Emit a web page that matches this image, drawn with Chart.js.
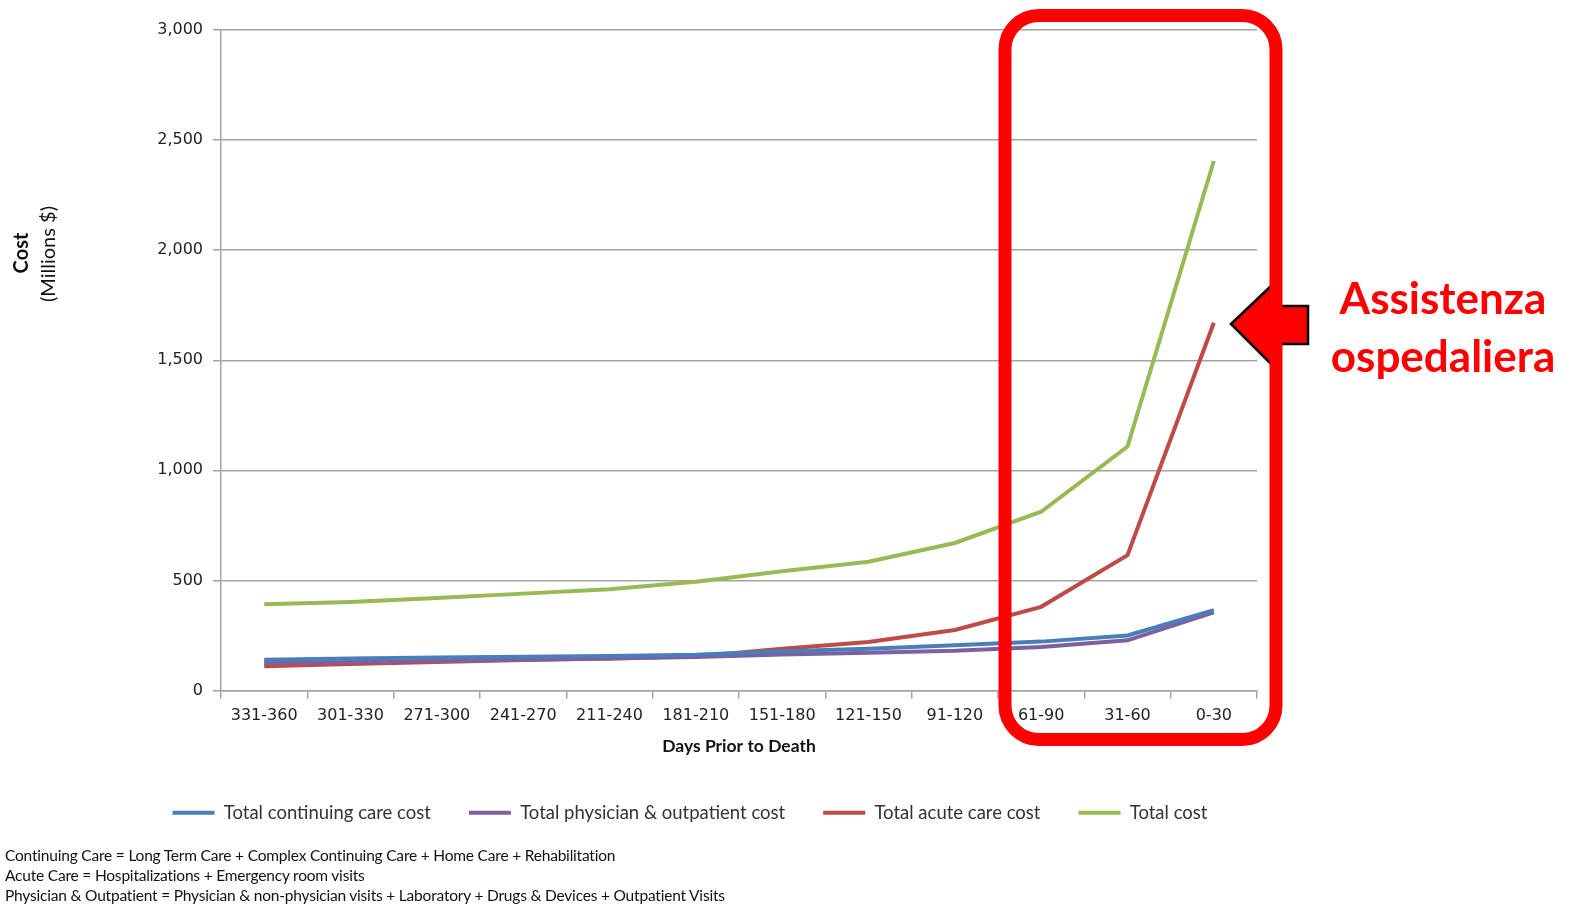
<!DOCTYPE html>
<html lang="en">
<head>
<meta charset="UTF-8">
<title>Cost prior to death</title>
<script src="https://cdn.jsdelivr.net/npm/chart.js"></script>
<style>
    html, body { margin: 0; padding: 0; background: #fff; }
    #wrap { position: relative; width: 1573px; height: 904px; overflow: hidden; }
    .ytitle { position: absolute; font-family: Lato, sans-serif; font-size: 20px; color: #111;
              transform: translate(-50%, -50%) rotate(-90deg); white-space: nowrap; }
    #note { position: absolute; left: 5px; top: 845px; font-family: Lato, sans-serif; font-size: 15.5px;
            line-height: 20px; color: #111; letter-spacing: -0.2px; }
    #callout { position: absolute; left: 1443px; top: 268px; transform: translateX(-50%); text-align: center;
               font-family: Lato, sans-serif; font-weight: bold; font-size: 44px; line-height: 58px; color: #ff0000; }
</style>
</head>
<body>
<div id="wrap">
    <canvas id="myChart" width="1573" height="904"></canvas>
    <div class="ytitle" style="left:20px; top:253px; font-weight:bold;">Cost</div>
    <div class="ytitle" style="left:47px; top:254px;">(Millions $)</div>
    <div id="callout">Assistenza<br>ospedaliera</div>
    <div id="note">
        Continuing Care = Long Term Care + Complex Continuing Care + Home Care + Rehabilitation<br>
        Acute Care = Hospitalizations + Emergency room visits<br>
        Physician &amp; Outpatient = Physician &amp; non-physician visits + Laboratory + Drugs &amp; Devices + Outpatient Visits
    </div>
</div>
<script>
// days prior to death, oldest first
const periods = ['331-360', '301-330', '271-300', '241-270', '211-240', '181-210',
                 '151-180', '121-150', '91-120', '61-90', '31-60', '0-30'];

// millions $
const continuingCare = [140, 145, 150, 153, 157, 162, 178, 190, 205, 222, 250, 365];
const physicianOutpatient = [125, 130, 135, 140, 145, 152, 163, 172, 180, 198, 228, 355];
const acuteCare = [110, 120, 130, 138, 145, 155, 190, 220, 275, 380, 615, 1670];
const totalCost = [392, 402, 420, 440, 460, 494, 542, 585, 670, 812, 1108, 2405];

const yTicks = [0, 500, 1000, 1500, 2000, 2500, 3000];

const gridGray = '#a3a3a3';

// red box around the last three periods + arrow
const highlight = {
    id: 'highlight',
    afterDraw(chart) {
        const c = chart.ctx;
        c.save();
        // arrow
        c.beginPath();
        c.moveTo(1231, 324);
        c.lineTo(1271, 286);
        c.lineTo(1271, 306);
        c.lineTo(1308, 306);
        c.lineTo(1308, 344);
        c.lineTo(1271, 344);
        c.lineTo(1271, 364);
        c.closePath();
        c.fillStyle = '#ff0000';
        c.fill();
        c.lineWidth = 2.5;
        c.strokeStyle = '#000';
        c.stroke();
        // rounded box
        c.beginPath();
        c.roundRect(1005, 15.5, 271, 724, 34);
        c.lineWidth = 13;
        c.strokeStyle = '#ff0000';
        c.stroke();
        c.restore();
    }
};

const ctx = document.getElementById('myChart').getContext('2d');

function series(label, data, color) {
    return {
        label: label,
        data: data,
        borderColor: color,
        backgroundColor: color,
        borderWidth: 4,
        pointRadius: 0,
        tension: 0
    };
}

new Chart(ctx, {
    type: 'line',
    data: {
        labels: periods,
        datasets: [
            series('Total continuing care cost', continuingCare, '#4a7ebb'),
            series('Total physician & outpatient cost', physicianOutpatient, '#7d60a0'),
            series('Total acute care cost', acuteCare, '#be4b48'),
            series('Total cost', totalCost, '#98b954')
        ]
    },
    options: {
        responsive: false,
        animation: false,
        layout: { padding: { left: 123, right: 316, top: 30, bottom: 72 } },
        plugins: {
            tooltip: { enabled: false },
            legend: {
                position: 'bottom',
                labels: {
                    boxWidth: 42,
                    boxHeight: 4,
                    padding: 38,
                    color: '#333',
                    font: { family: 'Lato', size: 18.5 },
                    generateLabels(chart) {
                        return Chart.defaults.plugins.legend.labels.generateLabels(chart)
                            .map(l => ({ ...l, lineWidth: 0 }));
                    }
                }
            }
        },
        scales: {
            x: {
                offset: true,
                grid: { offset: true, drawOnChartArea: false, drawTicks: true, tickLength: 8, color: gridGray, lineWidth: 1.5 },
                border: { color: gridGray, width: 1.5 },
                ticks: { color: '#222', font: { family: 'DejaVu Sans', size: 16 }, padding: 8, maxRotation: 0, autoSkip: false },
                title: { display: true, text: 'Days Prior to Death', color: '#111',
                         font: { family: 'Lato', size: 17.5, weight: 'bold' }, padding: { top: 5, bottom: 9 } },
                afterFit(s) { s.height = 75; }
            },
            y: {
                min: 0,
                max: 3000,
                afterBuildTicks(s) { s.ticks = yTicks.map(v => ({ value: v })); },
                grid: { color: gridGray, lineWidth: 1.5, tickLength: 8 },
                border: { color: gridGray, width: 1.5 },
                ticks: { color: '#222', font: { family: 'DejaVu Sans', size: 16 }, padding: 10,
                         callback: v => v.toLocaleString('en-US') },
                afterFit(s) { s.width = 98; }
            }
        }
    },
    plugins: [highlight]
});
</script>
</body>
</html>
